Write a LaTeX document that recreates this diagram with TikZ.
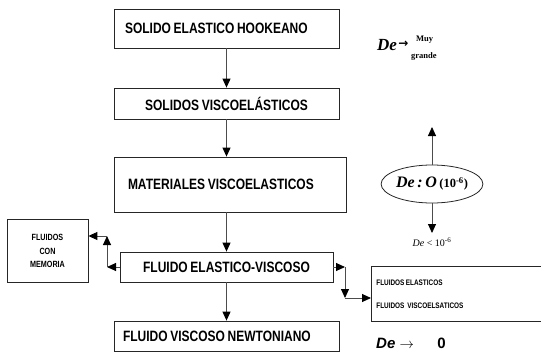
\documentclass[tikz,border=0pt]{standalone}
\usepackage{fontspec}
\setmainfont{Liberation Serif}
\newfontfamily\boxfont[FakeStretch=0.8, WordSpace=0.8]{Liberation Sans}
\newfontfamily\plainsans{Liberation Sans}
\newfontfamily\arrowfont{DejaVu Sans}
\usetikzlibrary{arrows.meta,positioning,shapes.geometric}
\definecolor{linegray}{gray}{0.3}

\begin{document}
\begin{tikzpicture}[x=1pt, y=-1pt,
    box/.style={draw=black!85, line width=0.8pt, inner sep=0pt,
        font=\boxfont\bfseries\fontsize{15}{17}\selectfont},
    arr/.style={draw=linegray, line width=0.9pt, -{Triangle[length=9pt, width=8pt, color=black]}}]
    \clip (0,0) rectangle (541,362);
    % main column of boxes
    \node[box, minimum width=225, minimum height=39, text width=203, align=flush left] (hooke) at (226.5,28.5) {SOLIDO ELASTICO HOOKEANO};
    \node[box, minimum width=225, minimum height=31] (solvisc) at (226.5,103.5) {SOLIDOS VISCOELÁSTICOS};
    \node[box, minimum width=232, minimum height=55, text width=204, align=flush left] (matvisc) at (230,184.5) {MATERIALES VISCOELASTICOS};
    \node[box, minimum width=213, minimum height=30] (fluelas) at (226.5,267) {FLUIDO ELASTICO-VISCOSO};
    \node[box, minimum width=225, minimum height=30, text width=207, align=flush left] (newton) at (226.5,336) {FLUIDO VISCOSO NEWTONIANO};
    % side boxes
    \node[box, minimum width=81, minimum height=63, align=center,
        font=\boxfont\bfseries\fontsize{9}{13.5}\selectfont] (memoria) at (47.5,251) {FLUIDOS\\CON\\MEMORIA};
    \node[box, anchor=north west, minimum width=200, minimum height=55, text width=190, align=flush left,
        font=\boxfont\bfseries\fontsize{8}{9}\selectfont] (fluidos) at (371,266) {FLUIDOS ELASTICOS\\[14pt]FLUIDOS\ \ VISCOELSATICOS};
    % column arrows
    \draw[arr] (hooke) -- (solvisc);
    \draw[arr] (solvisc) -- (solvisc |- matvisc.north);
    \draw[arr] (solvisc |- matvisc.south) -- (solvisc |- fluelas.north);
    \draw[arr] (fluelas) -- (newton);
    % elbow to the left
    \coordinate (lbend) at (107,267);
    \coordinate (ltop) at (107,236);
    \draw[arr] (fluelas.west) -- (lbend);
    \draw[arr] (lbend) -- (ltop);
    \draw[arr] (ltop) -- (ltop -| memoria.east);
    % elbow to the right
    \coordinate (rbend) at (345,267);
    \coordinate (rlow) at (345,298);
    \draw[arr] (fluelas.east) -- (rbend);
    \draw[arr] (rbend) -- (rlow);
    \draw[arr] (rlow) -- (rlow -| fluidos.west);
    % Deborah number labels
    \node[anchor=base west, inner sep=0pt, font=\fontsize{17}{17}\selectfont\bfseries\itshape] (detop) at (377,50) {De};
    \node[right=1pt of detop, inner sep=0pt, font=\arrowfont\bfseries\fontsize{12}{12}\selectfont] (arrtop) {→};
    \node[anchor=west, inner sep=0pt, font=\fontsize{8.5}{8.5}\selectfont\bfseries] (muy) at (416,40) {Muy};
    \node[anchor=west, inner sep=0pt, font=\fontsize{8.5}{8.5}\selectfont\bfseries] (grande) at (411,56) {grande};
    \node[ellipse, draw=black!85, line width=0.8pt, minimum width=100, minimum height=38, inner sep=0pt] (deorder) at (432,184)
        {{\fontsize{16}{16}\selectfont\bfseries\itshape De\,:\,O}\ {\fontsize{12.5}{12.5}\selectfont\bfseries(10\textsuperscript{-6})}};
    \coordinate (deup) at (432,127);
    \coordinate (dedown) at (432,233);
    \draw[arr] (deorder) -- (deup);
    \draw[arr] (deorder) -- (dedown);
    \node[font=\fontsize{10}{10}\selectfont, inner sep=0pt] (delow) at (432,242) {\textit{De} <\ 10\textsuperscript{-6}};
    \node[anchor=base west, inner sep=0pt, font=\plainsans\fontsize{15}{15}\selectfont] (dezero) at (376,348)
        {\textbf{\textit{De}} $\rightarrow$\quad\ \ \textbf{0}};
\end{tikzpicture}
\end{document}
